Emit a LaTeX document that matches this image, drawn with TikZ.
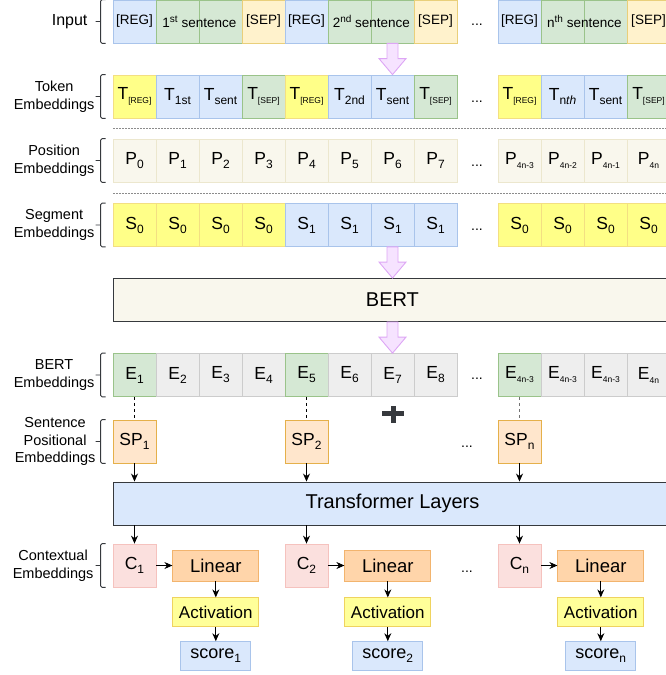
\documentclass[tikz,border=0pt]{standalone}
\usepackage{fontspec}
\setmainfont{Liberation Sans}
\usetikzlibrary{arrows.meta,positioning}

\definecolor{bluefill}{HTML}{DAE8FC}
\definecolor{blueline}{HTML}{A9C4EB}
\definecolor{greenfill}{HTML}{D5E8D4}
\definecolor{greenline}{HTML}{9AC38A}
\definecolor{sepfill}{HTML}{FFF2CC}
\definecolor{sepline}{HTML}{E9CF7A}
\definecolor{yelfill}{HTML}{FFFF88}
\definecolor{yelline}{HTML}{F3DF82}
\definecolor{posfill}{HTML}{F9F7ED}
\definecolor{posline}{HTML}{ECE7CE}
\definecolor{grayfill}{HTML}{EEEEEE}
\definecolor{grayline}{HTML}{CCCCCC}
\definecolor{spfill}{HTML}{FFE6CC}
\definecolor{spline}{HTML}{E5B04A}
\definecolor{ctxfill}{HTML}{FBE0DE}
\definecolor{ctxline}{HTML}{F5C2BE}
\definecolor{linfill}{HTML}{FFD5AA}
\definecolor{linline}{HTML}{F2B46E}
\definecolor{actfill}{HTML}{FFFF99}
\definecolor{actline}{HTML}{EFD35F}
\definecolor{darkline}{HTML}{36393D}
\definecolor{violetfill}{HTML}{F6E3FF}
\definecolor{violetline}{HTML}{DDA6F5}

% x position of a column
\newcommand\cx[1]{91.5+43*#1+41*(#1>8)}
\newcommand\lowtxt[2][12]{\raisebox{-4pt}{\fontsize{#1}{#1}\selectfont #2}}
\newcommand\uptxt[1]{\raisebox{5pt}{\fontsize{10}{10}\selectfont #1}}
\newcommand\rowbracket[1]{\draw[brk] ([xshift=-7pt]#1.north west) -- ([xshift=-12pt]#1.north west) -- ([xshift=-12pt]#1.south west) -- ([xshift=-7pt]#1.south west) ([xshift=-12pt]#1.west) -- ([xshift=-17pt]#1.west);}
\newcommand\blockarrow[2]{\draw[barrow] ([xshift=-5.5pt]#1) -- ([xshift=-5.5pt,yshift=16pt]#2) -- ([xshift=-13.5pt,yshift=16pt]#2) -- (#2) -- ([xshift=13.5pt,yshift=16pt]#2) -- ([xshift=5.5pt,yshift=16pt]#2) -- ([xshift=5.5pt]#1) -- cycle;}

\tikzset{
  cell/.style={draw, line width=0.8pt, minimum width=43pt, minimum height=43pt, inner sep=0pt, font=\fontsize{17.5}{20}\selectfont},
  cblue/.style={fill=bluefill, draw=blueline},
  cgreen/.style={fill=greenfill, draw=greenline},
  csep/.style={fill=sepfill, draw=sepline},
  cyel/.style={fill=yelfill, draw=yelline},
  cpos/.style={fill=posfill, draw=posline},
  cgray/.style={fill=grayfill, draw=grayline},
  csp/.style={fill=spfill, draw=spline},
  cctx/.style={fill=ctxfill, draw=ctxline},
  intext/.style={inner sep=0pt, font=\fontsize{13.5}{16}\selectfont},
  rowlabel/.style={align=center, anchor=east, inner sep=0pt, font=\fontsize{14.5}{17.5}\selectfont},
  dots/.style={inner sep=0pt, font=\fontsize{14}{16}\selectfont},
  bigbox/.style={draw=darkline, line width=0.9pt, minimum width=558pt, minimum height=43pt, anchor=west, font=\fontsize{20}{24}\selectfont},
  linbox/.style={draw=linline, fill=linfill, line width=0.8pt, minimum width=86pt, minimum height=31pt, inner sep=0pt, font=\fontsize{18.5}{22}\selectfont},
  actbox/.style={draw=actline, fill=actfill, line width=0.8pt, minimum width=86pt, minimum height=29pt, inner sep=0pt, font=\fontsize{17}{20}\selectfont},
  scorebox/.style={draw=blueline, fill=bluefill, line width=0.8pt, minimum width=70pt, minimum height=29pt, inner sep=0pt, font=\fontsize{18}{21}\selectfont},
  brk/.style={draw=darkline, line width=0.9pt, rounded corners=1.5pt},
  arr/.style={-{Stealth[length=8pt,width=7pt]}, line width=0.9pt},
  barrow/.style={fill=violetfill, draw=violetline, line width=0.9pt},
  sepdots/.style={draw=black!45, line width=0.8pt, dash pattern=on 1.5pt off 1.5pt}
}

\begin{document}
\begin{tikzpicture}[x=1pt,y=-1pt]
  \useasboundingbox (0,0) rectangle (666,675);

  % input
  \foreach \s [count=\i] in {cblue,cgreen,cgreen,csep,cblue,cgreen,cgreen,csep,cblue,cgreen,cgreen,csep}
    \node[cell,\s] (inp\i) at ({\cx{\i}},21.5) {};
  \foreach \i in {1,5,9}
    \node[intext] (reg\i) at (inp\i) {[REG]};
  \foreach \i in {4,8,12}
    \node[intext] (sep\i) at (inp\i) {[SEP]};
  \node[intext] (sent1) at (inp2.east) {1\uptxt{st} sentence};
  \node[intext] (sent2) at (inp6.east) {2\uptxt{nd} sentence};
  \node[intext] (sentn) at (inp10.east) {n\uptxt{th} sentence};

  % token embeddings
  \foreach \s/\t [count=\i] in {cyel/{T\lowtxt[8.5]{[REG]}}, cblue/{T\lowtxt{1st}}, cblue/{T\lowtxt{sent}}, cgreen/{T\lowtxt[8.5]{[SEP]}},
      cyel/{T\lowtxt[8.5]{[REG]}}, cblue/{T\lowtxt{2nd}}, cblue/{T\lowtxt{sent}}, cgreen/{T\lowtxt[8.5]{[SEP]}},
      cyel/{T\lowtxt[8.5]{[REG]}}, cblue/{T\lowtxt{n\textit{th}}}, cblue/{T\lowtxt{sent}}, cgreen/{T\lowtxt[8.5]{[SEP]}}}
    \node[cell,\s] (tok\i) at ({\cx{\i}},96.5) {\t};

  \draw[sepdots] (113,128.5) -- (670,128.5);

  % position embeddings
  \foreach \t [count=\i] in {0,1,2,3,4,5,6,7,4n-3,4n-2,4n-1,4n}
    \node[cell,cpos] (pos\i) at ({\cx{\i}},160.5) {P\ifnum\i>8 \lowtxt[8.5]{\t}\else\lowtxt{\t}\fi};

  \draw[sepdots] (113,193) -- (670,193);

  % segment embeddings
  \foreach \s/\t [count=\i] in {cyel/0,cyel/0,cyel/0,cyel/0,cblue/1,cblue/1,cblue/1,cblue/1,cyel/0,cyel/0,cyel/0,cyel/0}
    \node[cell,\s] (seg\i) at ({\cx{\i}},225) {S\lowtxt{\t}};

  % BERT
  \node[bigbox, fill=posfill] (bert) at (113,300) {BERT};

  % BERT embeddings
  \foreach \s/\t [count=\i] in {cgreen/1,cgray/2,cgray/3,cgray/4,cgreen/5,cgray/6,cgray/7,cgray/8,cgreen/4n-3,cgray/4n-3,cgray/4n-3,cgray/4n}
    \node[cell,\s] (emb\i) at ({\cx{\i}},375) {E\ifnum\i>8 \lowtxt[8.5]{\t}\else\lowtxt{\t}\fi};

  \foreach \r/\y in {inp/25,tok/101.5,pos/165.5,seg/230,emb/379}
    \node[dots] (dots\r) at (477,\y) {...};

  \coordinate (bertin) at (seg7.south |- bert.north);
  \coordinate (bertout) at (emb7.north |- bert.south);
  \blockarrow{inp7.south}{tok7.north}
  \blockarrow{seg7.south}{bertin}
  \blockarrow{bertout}{emb7.north}

  \fill[darkline] (382,410.5) rectangle (404,415.5);
  \fill[darkline] (390.5,405.5) rectangle (395.5,423);

  % transformer
  \node[bigbox, fill=bluefill] (trans) at (113,503.5) {Transformer Layers};

  \foreach \k/\c/\d in {1/1/black,2/5/black,n/9/black!55} {
    \node[cell,csp] (sp\k) at ({\cx{\c}},441.5) {SP\lowtxt{\k}};
    \draw[dashed, line width=0.8pt, \d] (emb\c) -- (sp\k);
    \draw[arr] (sp\k) -- (sp\k |- trans.north);
    \node[cell,cctx] (c\k) at ({\cx{\c}},565.5) {C\lowtxt{\k}};
    \draw[arr] (trans.south -| c\k) -- (c\k);
    \node[linbox, right=16pt of c\k] (lin\k) {Linear};
    \node[actbox, below=16pt of lin\k] (act\k) {Activation};
    \node[scorebox, below=14pt of act\k] (score\k) {score\lowtxt{\k}};
    \draw[arr] (c\k) -- (lin\k);
    \draw[arr] (lin\k) -- (act\k);
    \draw[arr] (act\k) -- (score\k);
  }
  \node[dots] (dotssp) at (467,447) {...};
  \node[dots] (dotsc) at (467,572) {...};

  % row labels
  \node[rowlabel, font=\fontsize{16}{19}\selectfont] (lblinp) at ([xshift=-25pt]inp1.west) {Input};
  \node[rowlabel] (lbltok) at ([xshift=-18pt]tok1.west) {Token\\Embeddings};
  \node[rowlabel] (lblpos) at ([xshift=-18pt]pos1.west) {Position\\Embeddings};
  \node[rowlabel] (lblseg) at ([xshift=-18pt]seg1.west) {Segment\\Embeddings};
  \node[rowlabel] (lblemb) at ([xshift=-18pt]emb1.west) {BERT\\Embeddings};
  \node[rowlabel] (lblsp) at ([xshift=-17pt]sp1.west) {Sentence\\Positional\\Embeddings};
  \node[rowlabel] (lblc) at ([xshift=-19pt]c1.west) {Contextual\\Embeddings};
  \foreach \r in {inp1,tok1,pos1,seg1,emb1,sp1,c1} {
    \rowbracket{\r}
  }
\end{tikzpicture}
\end{document}
